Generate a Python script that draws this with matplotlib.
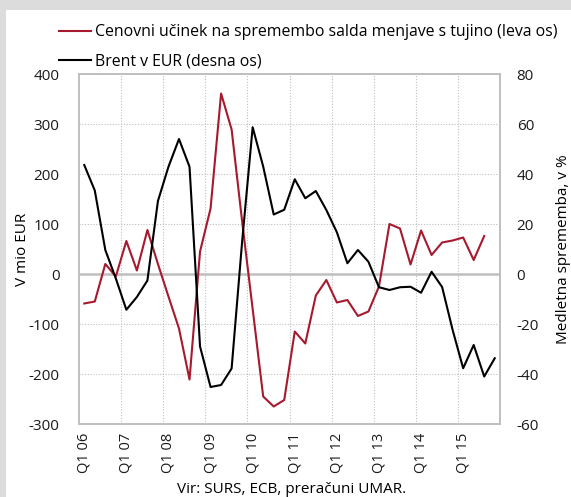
import numpy as np
import matplotlib.pyplot as plt
from matplotlib.patches import Rectangle

plt.rcParams['font.family'] = ['Open Sans', 'DejaVu Sans']
plt.rcParams['axes.unicode_minus'] = False

# Četrtletja Q1 06 - Q4 15
let = list(range(6, 16))
kvartali = [f"Q{q} {l:02d}" for l in let for q in range(1, 5)]

# Cenovni učinek na spremembo salda menjave s tujino (mio EUR), zadnji kvartal manjka
cenovni = [-59, -55, 20, -5, 66, 7, 88, 20, -45, -109,
           -211, 45, 131, 361, 289, 105, -70, -245, -265, -252,
           -115, -139, -43, -12, -57, -52, -84, -75, -25, 100,
           91, 19, 87, 38, 63, 67, 73, 28, 76]

# Brent v EUR, medletna sprememba (%)
brent = [43.6, 33.4, 9.6, -1.8, -14.3, -9.2, -2.6, 29.2, 42.9, 54.0,
         42.9, -29.0, -45.2, -44.4, -37.8, 13.0, 58.7, 43.0, 23.8, 25.7,
         37.9, 30.3, 33.2, 25.6, 16.7, 4.3, 9.6, 4.9, -5.3, -6.4,
         -5.3, -5.1, -7.5, 0.9, -5.2, -22.4, -37.7, -28.4, -41.0, -33.7]

rdeca = "#A6192E"
siva = "#BFBFBF"
fs = 11

fig = plt.figure(figsize=(5.71, 4.97), dpi=100, facecolor="#DCDCDC")
fig.patches.append(Rectangle((6 / 571, 0), 1, 1 - 10 / 497, transform=fig.transFigure,
                             facecolor="white", edgecolor="none", zorder=-1))

ax = fig.add_axes([79 / 571, 73 / 497, 421 / 571, 350 / 497])
ax2 = ax.twinx()

x = np.arange(len(kvartali))
ax.plot(x[:len(cenovni)], cenovni, color=rdeca, lw=1.5, label="Cenovni učinek na spremembo salda menjave s tujino (leva os)", zorder=3)
ax2.plot(x, brent, color="black", lw=1.5, label="Brent v EUR (desna os)", zorder=3)

ax.set_xlim(-0.5, len(kvartali) - 0.5)
ax.set_ylim(-300, 400)
ax.set_yticks(range(-300, 401, 100))
ax2.set_ylim(-60, 80)
ax2.set_yticks(range(-60, 81, 20))

# mreža
for v in range(-300, 401, 100):
    if v == 0:
        ax.axhline(0, color=siva, lw=1.8, zorder=1)
    else:
        ax.axhline(v, color=siva, lw=0.8, ls=(0, (1, 1.5)), zorder=1)
for i in range(4, len(kvartali), 4):
    ax.axvline(i - 0.5, color=siva, lw=0.8, ls=(0, (1, 1.5)), zorder=1)

ax.set_xticks(x[::4])
ax.set_xticklabels(kvartali[::4], rotation=90)

for a in (ax, ax2):
    for s in a.spines.values():
        s.set_color(siva)
        s.set_linewidth(1.2)
    a.tick_params(length=0, labelsize=fs, colors="#1a1a1a")
ax.tick_params(axis="y", pad=14)
ax2.tick_params(axis="y", pad=12)
ax.tick_params(axis="x", pad=6, labelsize=10.5)

ax.set_ylabel("V mio EUR", fontsize=fs, labelpad=-1)
ax2.set_ylabel("Medletna sprememba, v %", fontsize=fs, labelpad=12)

h1, l1 = ax.get_legend_handles_labels()
h2, l2 = ax2.get_legend_handles_labels()
fig.legend(h1 + h2, l1 + l2, loc="upper left", bbox_to_anchor=(53 / 571, 1 - 18 / 497),
           frameon=False, fontsize=11.4, handlelength=2.0, handletextpad=0.25,
           labelspacing=0.85, borderaxespad=0)

fig.text(0.51, 1 - 497 / 497, "Vir: SURS, ECB, preračuni UMAR.", ha="center", va="bottom", fontsize=fs)

fig.savefig("out.png", dpi=100, facecolor=fig.get_facecolor())
